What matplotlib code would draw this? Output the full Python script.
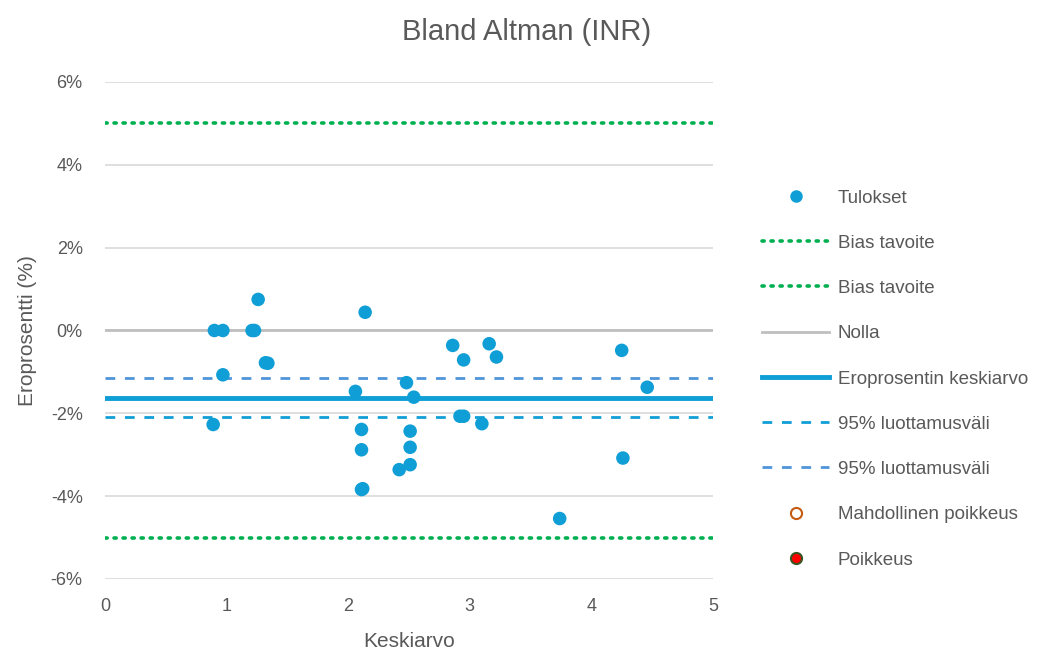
import matplotlib.pyplot as plt
from matplotlib.lines import Line2D
from matplotlib.ticker import FuncFormatter

plt.rcParams['font.family'] = ['Liberation Sans Narrow', 'Liberation Sans', 'DejaVu Sans']

# mittaustulokset: keskiarvo ja eroprosentti (%)
keskiarvo = [0.90, 0.97, 1.21, 1.23, 1.26, 1.32, 1.34, 0.97, 0.89,
             2.14, 2.06, 2.11, 2.11, 2.11, 2.12, 2.42, 2.51, 2.51, 2.51,
             2.48, 2.54, 2.86, 2.95, 3.16, 3.22, 2.92, 2.95, 3.10,
             4.25, 4.46, 4.26, 3.74]
eroprosentti = [0.0, 0.0, 0.0, 0.0, 0.75, -0.78, -0.79, -1.07, -2.27,
                0.44, -1.47, -2.39, -2.88, -3.84, -3.82, -3.36, -3.24, -2.82, -2.43,
                -1.26, -1.61, -0.36, -0.71, -0.32, -0.64, -2.07, -2.07, -2.25,
                -0.48, -1.37, -3.08, -4.54]

bias_tavoite = 5.0
keskiarvo_ero = -1.62
luottamus_ala = -2.10
luottamus_yla = -1.14

harmaa = '#595959'
sininen = '#0F9ED5'
vaalea_sininen = '#4E95D9'
vihrea = '#00B050'

fig = plt.figure(figsize=(10.58, 6.59), dpi=100)
ax = fig.add_axes([0.0992, 0.1214, 0.5746, 0.7542])

for y in range(-6, 7, 2):
    ax.axhline(y, color='#D9D9D9', lw=1.2, zorder=0)

ax.axhline(bias_tavoite, color=vihrea, lw=2.6, ls=(0, (0.6, 1.9)), dash_capstyle='round', zorder=1)
ax.axhline(-bias_tavoite, color=vihrea, lw=2.6, ls=(0, (0.6, 1.9)), dash_capstyle='round', zorder=1)
ax.axhline(0, color='#BFBFBF', lw=2.0, zorder=1)
ax.axhline(keskiarvo_ero, color=sininen, lw=3.5, zorder=2)
ax.axhline(luottamus_ala, color=sininen, lw=2.0, ls=(0, (3.5, 3.5)), zorder=2)
ax.axhline(luottamus_yla, color=vaalea_sininen, lw=2.0, ls=(0, (3.5, 3.5)), zorder=2)
ax.scatter(keskiarvo, eroprosentti, s=95, color=sininen, edgecolors='none', zorder=3)

ax.set_xlim(0, 5)
ax.set_ylim(-6, 6)
ax.set_xticks(range(0, 6))
ax.set_yticks(range(-6, 7, 2))
ax.yaxis.set_major_formatter(FuncFormatter(lambda v, p: '%d%%' % v))
ax.tick_params(length=0, labelsize=13, labelcolor=harmaa)
ax.tick_params(axis='y', pad=16)
ax.tick_params(axis='x', pad=14)
for s in ax.spines.values():
    s.set_visible(False)

ax.set_xlabel('Keskiarvo', fontsize=15, color=harmaa, labelpad=12)
ax.set_ylabel('Eroprosentti (%)', fontsize=15, color=harmaa, labelpad=10)
fig.text(0.498, 0.951, 'Bland Altman (INR)', ha='center', va='center', fontsize=21, color=harmaa)

kahvat = [
    Line2D([], [], ls='none', marker='o', ms=9, color=sininen, mec='none'),
    Line2D([], [], color=vihrea, lw=2.6, ls=(0, (0.6, 1.9)), dash_capstyle='round'),
    Line2D([], [], color=vihrea, lw=2.6, ls=(0, (0.6, 1.9)), dash_capstyle='round'),
    Line2D([], [], color='#BFBFBF', lw=2.0),
    Line2D([], [], color=sininen, lw=3.5),
    Line2D([], [], color=sininen, lw=2.0, ls=(0, (3.5, 3.5))),
    Line2D([], [], color=vaalea_sininen, lw=2.0, ls=(0, (3.5, 3.5))),
    Line2D([], [], ls='none', marker='o', ms=8, mfc='white', mec='#C55A11', mew=1.5),
    Line2D([], [], ls='none', marker='o', ms=8, mfc='#FF0000', mec='#375623', mew=1.5),
]
nimet = ['Tulokset', 'Bias tavoite', 'Bias tavoite', 'Nolla', 'Eroprosentin keskiarvo',
         '95% luottamusväli', '95% luottamusväli', 'Mahdollinen poikkeus', 'Poikkeus']
leg = fig.legend(kahvat, nimet, loc='upper left', bbox_to_anchor=(0.713, 0.724),
                 frameon=False, fontsize=13.5, labelspacing=1.5, handlelength=3.6,
                 handletextpad=0.45, borderaxespad=0)
for t in leg.get_texts():
    t.set_color(harmaa)

fig.savefig('out.png', dpi=100)
